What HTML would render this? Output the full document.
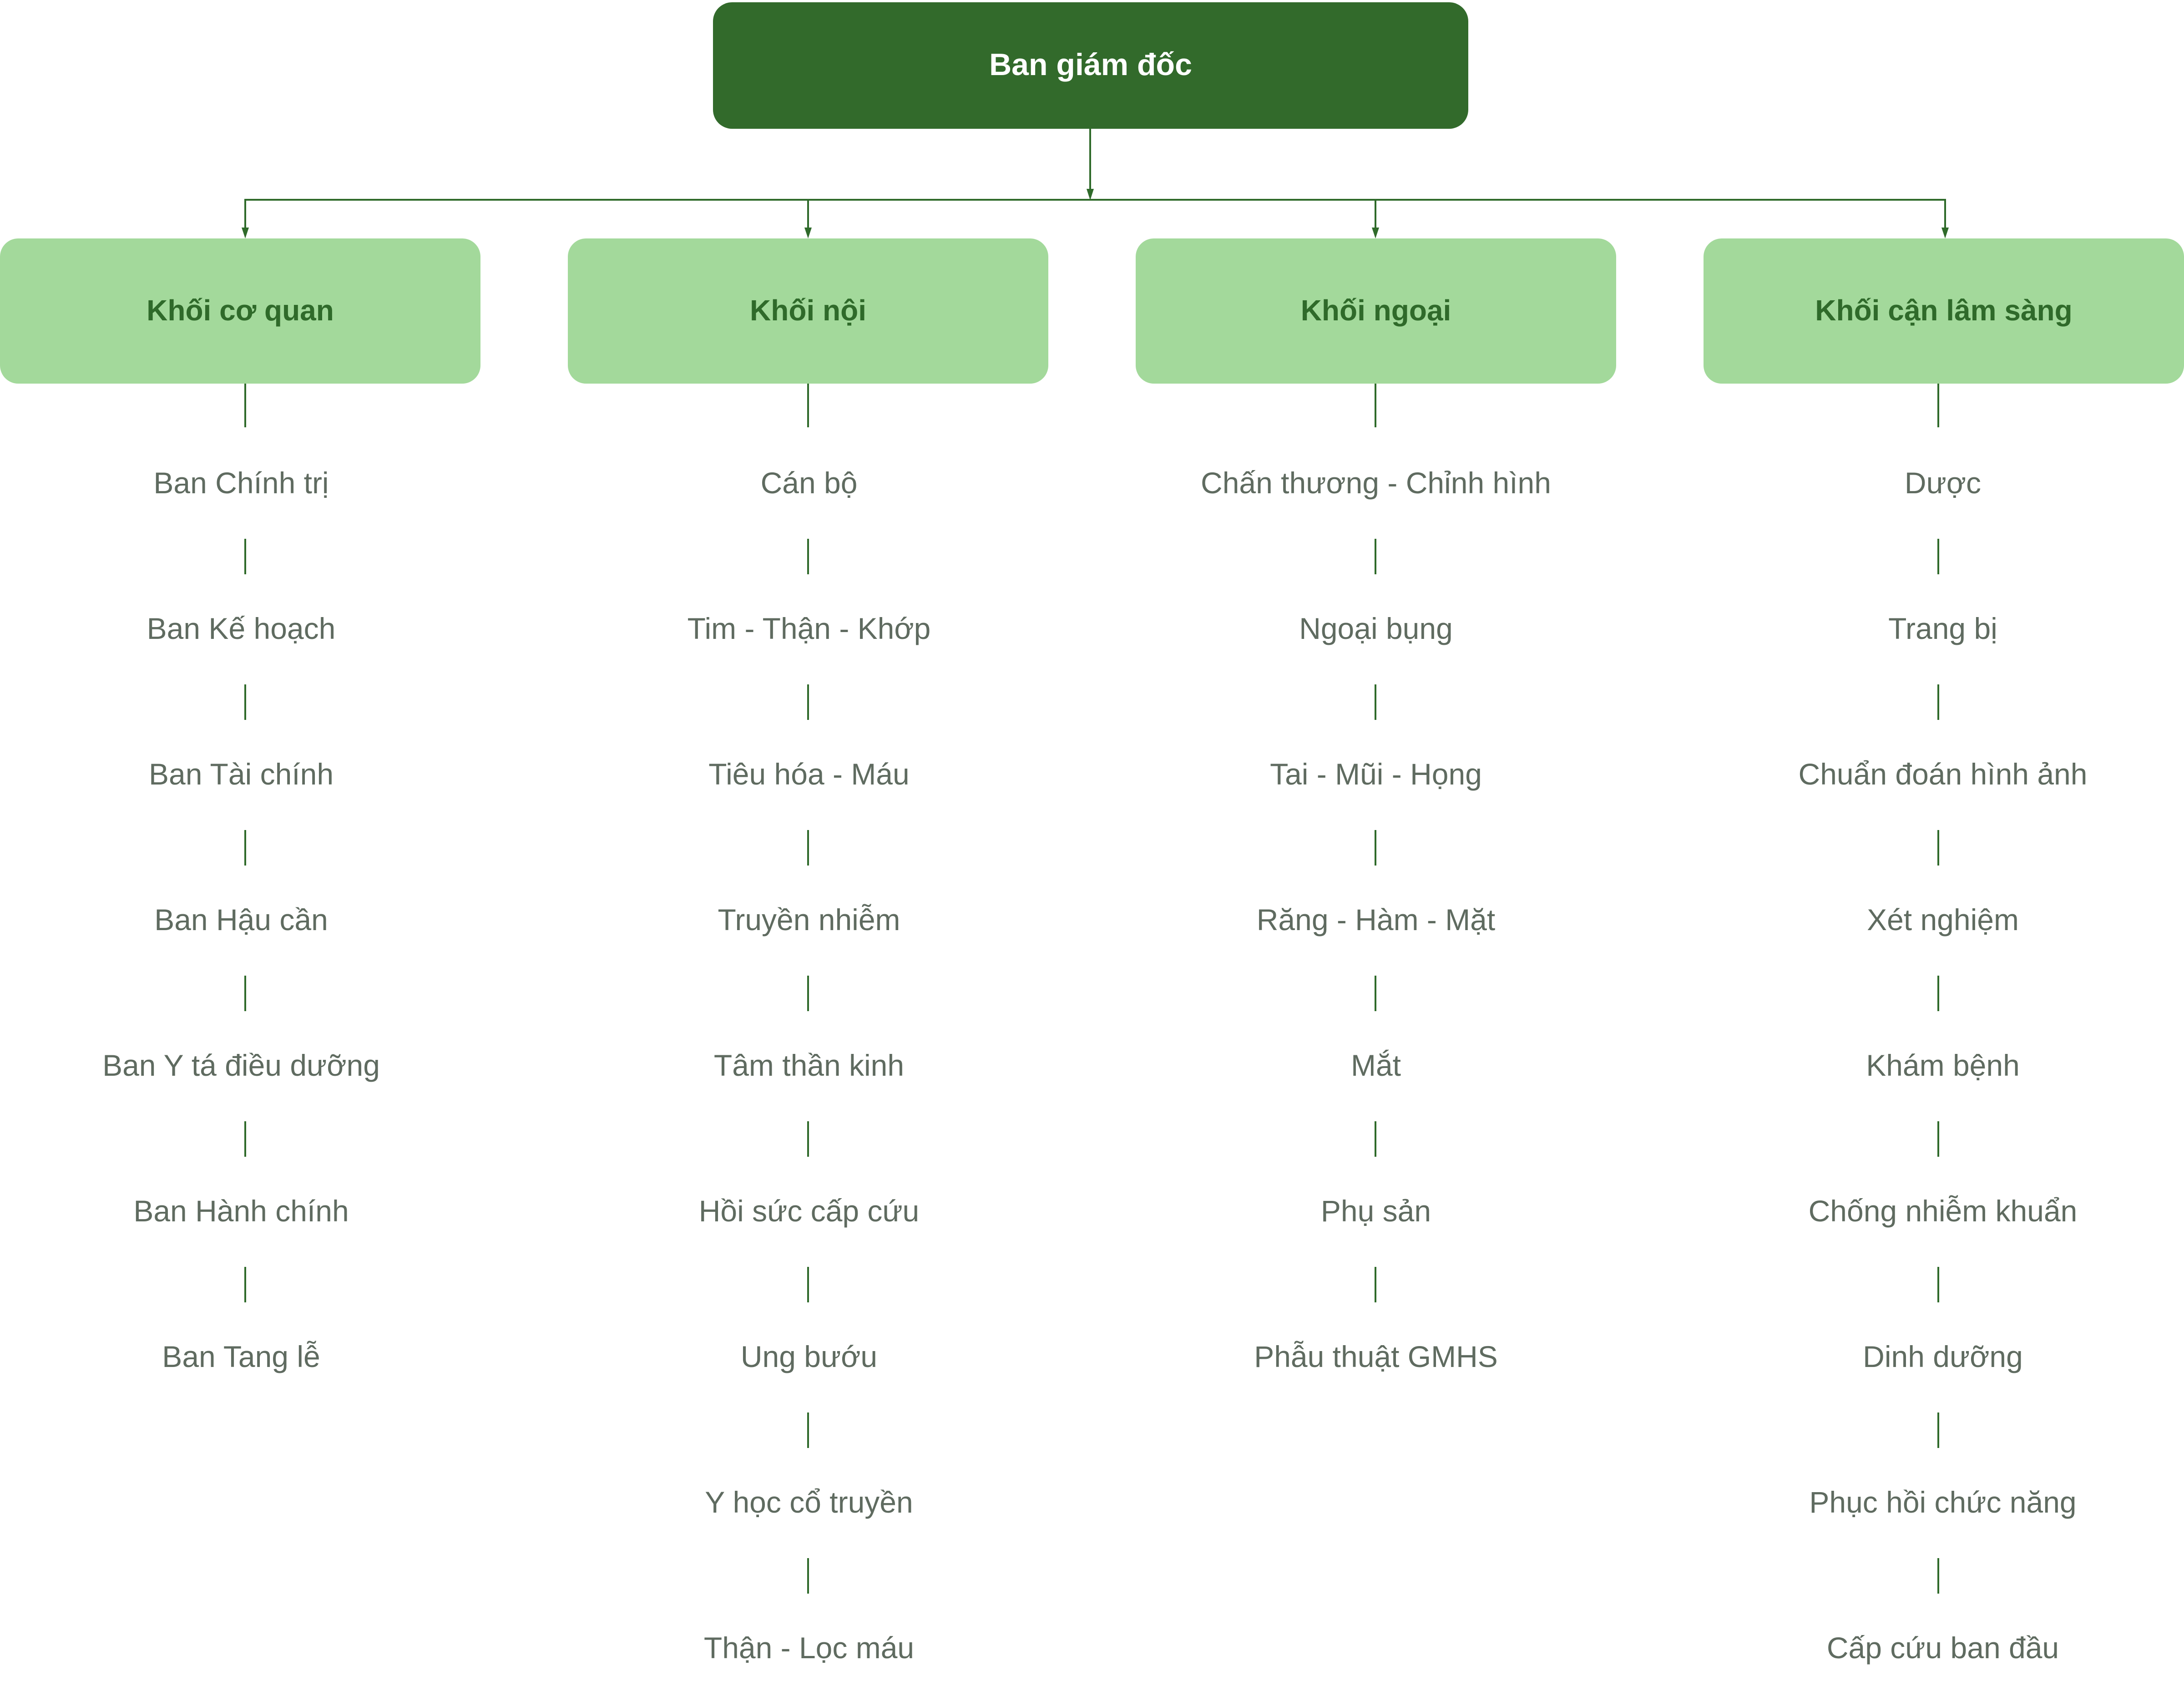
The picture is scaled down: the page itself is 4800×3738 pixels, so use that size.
<!DOCTYPE html>
<html><head><meta charset="utf-8"><style>html,body{margin:0;padding:0;background:#fff}svg{display:block}</style></head>
<body>
<svg width="4800" height="3738" viewBox="0 0 4800 3738" xmlns="http://www.w3.org/2000/svg" font-family="'Liberation Sans', sans-serif">
<rect x="1567" y="5" width="1660" height="278" rx="42" fill="#326a2b"/>
<text x="2397" y="165" text-anchor="middle" font-size="68" font-weight="bold" fill="#fff">Ban giám đốc</text>
<g stroke="#2f6a2a" stroke-width="4" fill="none">
<line x1="2396" y1="283" x2="2396" y2="425"/>
<polyline points="539,510 539,439 4275,439 4275,510"/>
<line x1="1776" y1="439" x2="1776" y2="510"/>
<line x1="3023" y1="439" x2="3023" y2="510"/>
</g>
<g fill="#2f6a2a">
<path d="M2388,415 L2404,415 L2396,440 Z"/>
<path d="M531,500 L547,500 L539,524 Z"/><path d="M1768,500 L1784,500 L1776,524 Z"/><path d="M3015,500 L3031,500 L3023,524 Z"/><path d="M4267,500 L4283,500 L4275,524 Z"/>
</g>
<g fill="#a3d99b">
<rect x="0" y="524" width="1056" height="319" rx="40"/>
<rect x="1248" y="524" width="1056" height="319" rx="40"/>
<rect x="2496" y="524" width="1056" height="319" rx="40"/>
<rect x="3744" y="524" width="1056" height="319" rx="40"/>
</g>
<g font-size="64" font-weight="bold" fill="#2f6a2a" text-anchor="middle">
<text x="528" y="704">Khối cơ quan</text>
<text x="1776" y="704">Khối nội</text>
<text x="3024" y="704">Khối ngoại</text>
<text x="4272" y="704">Khối cận lâm sàng</text>
</g>
<g stroke="#2f6a2a" stroke-width="4">
<line x1="539" y1="843" x2="539" y2="939"/><line x1="1776" y1="843" x2="1776" y2="939"/><line x1="3023" y1="843" x2="3023" y2="939"/><line x1="4260" y1="843" x2="4260" y2="939"/>
<g id="l1"><line x1="539" y1="1184" x2="539" y2="1262"/><line x1="539" y1="1504" x2="539" y2="1582"/><line x1="539" y1="1824" x2="539" y2="1902"/><line x1="539" y1="2144" x2="539" y2="2222"/><line x1="539" y1="2464" x2="539" y2="2542"/><line x1="539" y1="2784" x2="539" y2="2862"/></g>
<use href="#l1" x="1237"/><use href="#l1" x="2484"/><use href="#l1" x="3721"/>
<line x1="1776" y1="3104" x2="1776" y2="3182"/><line x1="1776" y1="3424" x2="1776" y2="3502"/>
<line x1="4260" y1="3104" x2="4260" y2="3182"/><line x1="4260" y1="3424" x2="4260" y2="3502"/>
</g>
<g font-size="66" fill="#5f6b60" text-anchor="middle">
<text x="530" y="1084">Ban Chính trị</text><text x="530" y="1404">Ban Kế hoạch</text><text x="530" y="1724">Ban Tài chính</text><text x="530" y="2044">Ban Hậu cần</text><text x="530" y="2364">Ban Y tá điều dưỡng</text><text x="530" y="2684">Ban Hành chính</text><text x="530" y="3004">Ban Tang lễ</text>
<text x="1778" y="1084">Cán bộ</text><text x="1778" y="1404">Tim - Thận - Khớp</text><text x="1778" y="1724">Tiêu hóa - Máu</text><text x="1778" y="2044">Truyền nhiễm</text><text x="1778" y="2364">Tâm thần kinh</text><text x="1778" y="2684">Hồi sức cấp cứu</text><text x="1778" y="3004">Ung bướu</text><text x="1778" y="3324">Y học cổ truyền</text><text x="1778" y="3644">Thận - Lọc máu</text>
<text x="3024" y="1084">Chấn thương - Chỉnh hình</text><text x="3024" y="1404">Ngoại bụng</text><text x="3024" y="1724">Tai - Mũi - Họng</text><text x="3024" y="2044">Răng - Hàm - Mặt</text><text x="3024" y="2364">Mắt</text><text x="3024" y="2684">Phụ sản</text><text x="3024" y="3004">Phẫu thuật GMHS</text>
<text x="4270" y="1084">Dược</text><text x="4270" y="1404">Trang bị</text><text x="4270" y="1724">Chuẩn đoán hình ảnh</text><text x="4270" y="2044">Xét nghiệm</text><text x="4270" y="2364">Khám bệnh</text><text x="4270" y="2684">Chống nhiễm khuẩn</text><text x="4270" y="3004">Dinh dưỡng</text><text x="4270" y="3324">Phục hồi chức năng</text><text x="4270" y="3644">Cấp cứu ban đầu</text>
</g>
</svg>
</body></html>
